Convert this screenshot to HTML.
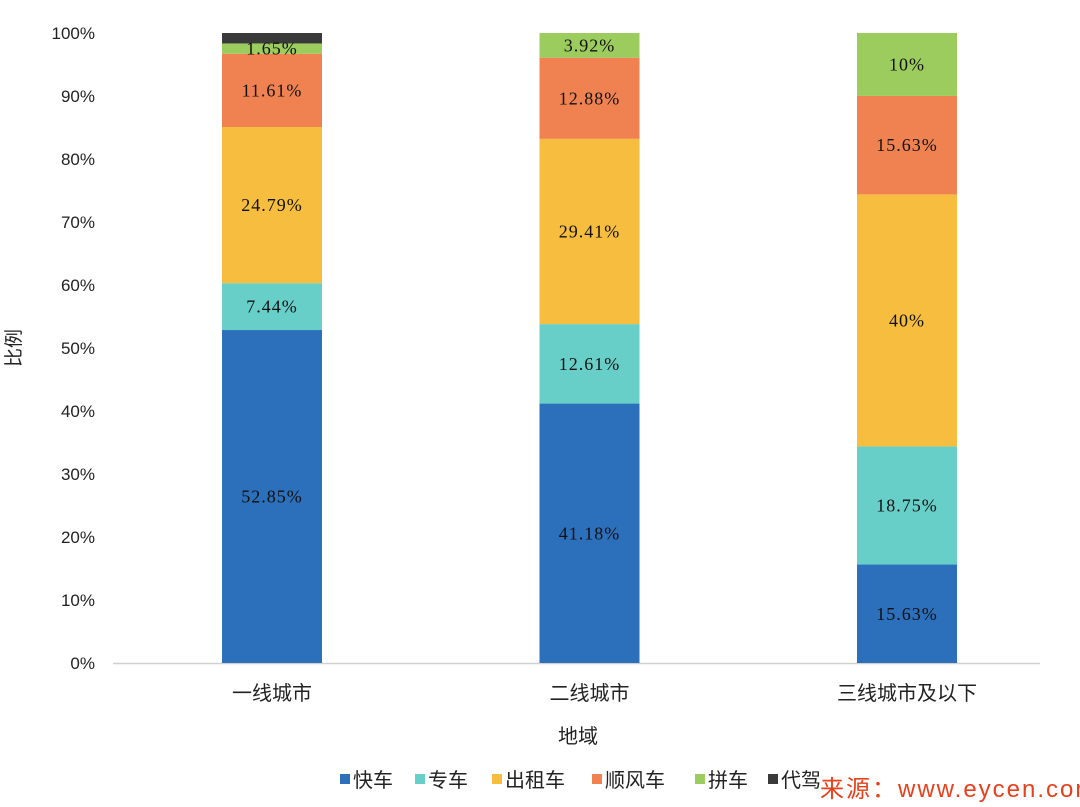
<!DOCTYPE html>
<html><head><meta charset="utf-8"><style>
body{margin:0;background:#fff;width:1080px;height:807px;overflow:hidden}
svg{display:block}
.t{font-family:"Liberation Sans","Noto Sans CJK SC",sans-serif;fill:#222}
.v{font-family:"Liberation Serif","Noto Serif CJK SC",serif;font-size:18px;fill:#111;text-anchor:middle;dominant-baseline:central;letter-spacing:1px}
</style></head><body>
<svg id="chart" width="1080" height="807">
<g id="grid"></g><g id="bars"></g><g id="labels"></g>
<text class="t" x="20" y="348" font-size="19" transform="rotate(-90 20 348)" text-anchor="middle">比例</text>
<text class="t" x="578" y="743" font-size="20" text-anchor="middle">地域</text>
<g id="legend"></g>
<text x="820" y="797" font-family="Liberation Sans Narrow','Liberation Sans','Noto Sans CJK SC',sans-serif" font-size="24" fill="#e8401c" style="font-family:'Liberation Sans','Noto Sans CJK SC',sans-serif;letter-spacing:2px">来源：www.eycen.com</text>
</svg>
<script>
const categories=["一线城市","二线城市","三线城市及以下"];
const seriesNames=["快车","专车","出租车","顺风车","拼车","代驾"];
const colors=["#2c6fbb","#67cfc8","#f6bd3f","#ef8250","#9ccc5e","#3a3a3a"];
const kuaiche=[52.85,41.18,15.63];
const zhuanche=[7.44,12.61,18.75];
const chuzuche=[24.79,29.41,40];
const shunfengche=[11.61,12.88,15.63];
const pinche=[1.65,3.92,10];
const daijia=[1.66,0,0];
const labelsShown=[["52.85%","41.18%","15.63%"],["7.44%","12.61%","18.75%"],["24.79%","29.41%","40%"],["11.61%","12.88%","15.63%"],["1.65%","3.92%","10%"],["","",""]];
const yTicks=[0,10,20,30,40,50,60,70,80,90,100];
const series=[kuaiche,zhuanche,chuzuche,shunfengche,pinche,daijia];
const NS="http://www.w3.org/2000/svg";
const y0=663,y1=33;
const yS=v=>y0-(v/100)*(y0-y1);
const xC=i=>272+i*317.5;
const bw=100;
function mk(t,a,p){const e=document.createElementNS(NS,t);for(const k in a)e.setAttribute(k,a[k]);p.appendChild(e);return e;}
const grid=document.getElementById('grid'),bars=document.getElementById('bars'),labels=document.getElementById('labels'),legend=document.getElementById('legend');
yTicks.forEach(t=>{const e=mk('text',{class:'t',x:95,y:yS(t)+6,'font-size':17,'text-anchor':'end'},grid);e.textContent=t+'%';

});
const ax=mk('line',{x1:113,x2:1040,y1:y0+0.5,y2:y0+0.5,stroke:'#d0d0d0','stroke-width':1.5},grid);


categories.forEach((c,i)=>{const e=mk('text',{class:'t',x:xC(i),y:700,'font-size':20,'text-anchor':'middle'},grid);e.textContent=c;


let cum=0;
series.forEach((s,j)=>{const v=s[i];if(v<=0)return;const top=yS(cum+v),bot=yS(cum);
const r=mk('rect',{x:xC(i)-bw/2,y:top,width:bw,height:bot-top,fill:colors[j]},bars);


const lb=labelsShown[j][i];if(lb){const t=mk('text',{class:'v',x:xC(i),y:(top+bot)/2},labels);t.textContent=lb;

}
cum+=v;});});
const lx=[340,415,492,592,695,768];
seriesNames.forEach((n,j)=>{const g=mk('g',{},legend);


mk('rect',{x:lx[j],y:774,width:10,height:10,fill:colors[j]},g);
const t=mk('text',{class:'t',x:lx[j]+13,y:787,'font-size':20},g);t.textContent=n;});
</script>
</body></html>
